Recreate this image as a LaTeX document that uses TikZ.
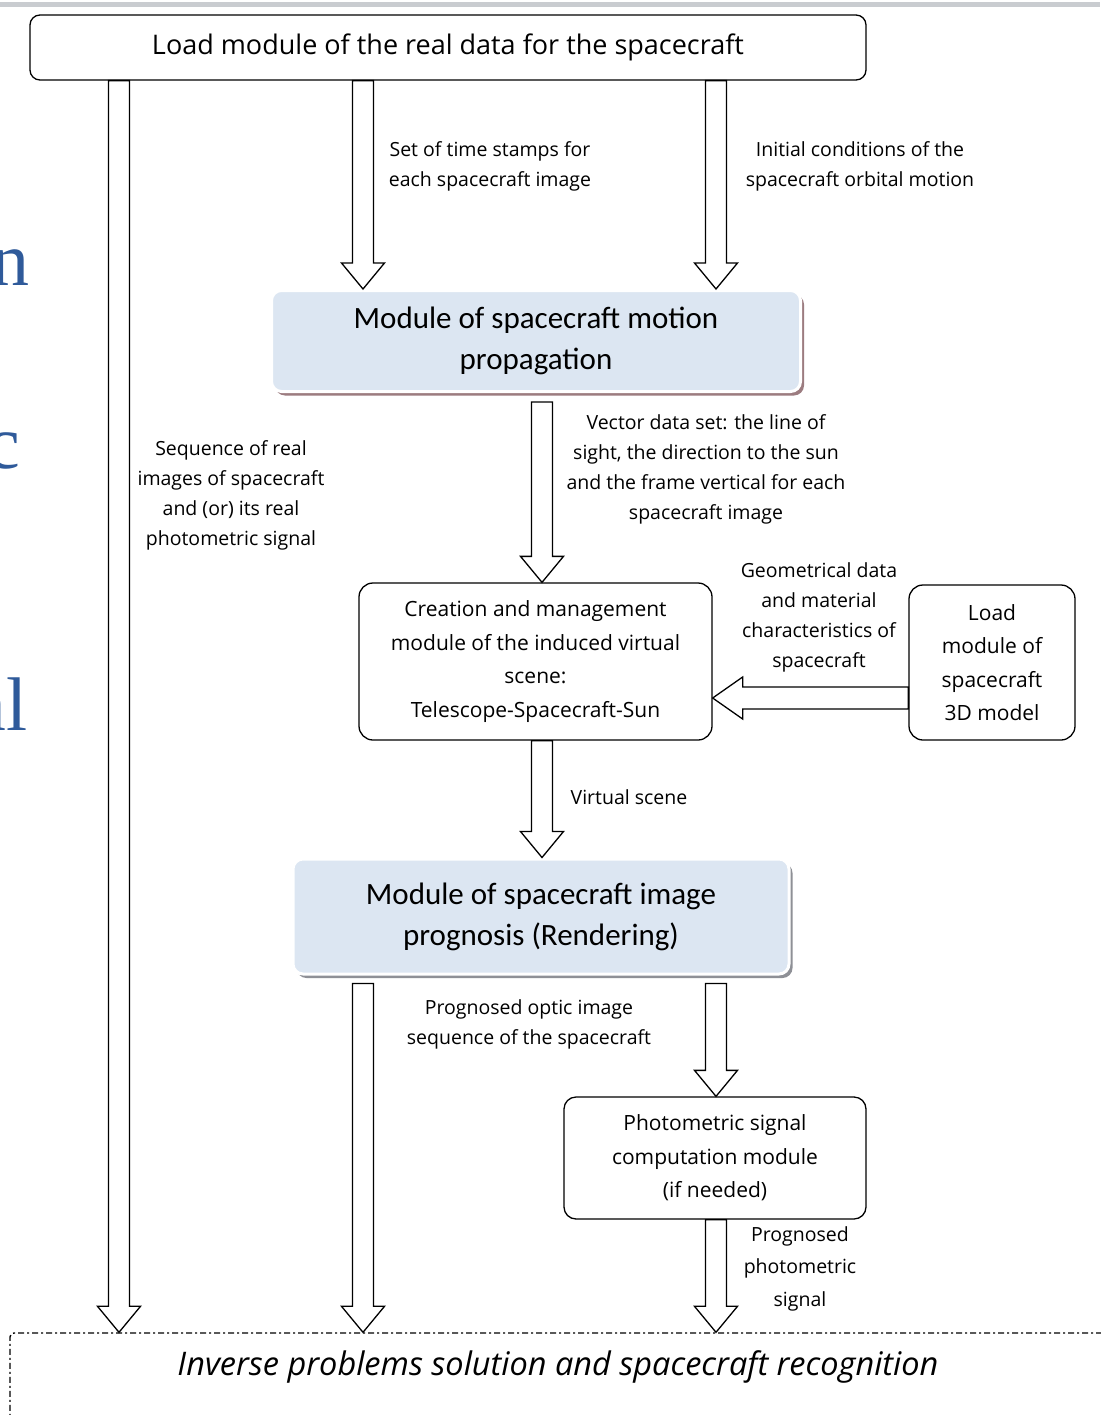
\documentclass[tikz,border=0pt]{standalone}
\usepackage{fontspec}
\setmainfont{Open Sans}
\newfontfamily\calfont{Carlito}
\newfontfamily\serfont{Liberation Serif}
\usetikzlibrary{calc,shadows}
\definecolor{shadefill}{HTML}{DCE6F2}
\definecolor{shadeshadow}{HTML}{9C7C80}
\definecolor{shadegray}{HTML}{8E9096}
\definecolor{slideblue}{HTML}{2F5A9A}
\definecolor{topbar}{HTML}{C9CCD0}
\tikzset{
  box/.style={draw=black, line width=1.3pt, rounded corners=14pt, fill=white, align=center, inner sep=0pt, font=\fontsize{21}{33.5}\selectfont},
  shadebox/.style={draw=white, line width=3pt, rounded corners=10pt, fill=shadefill, align=center, inner sep=0pt, font=\calfont\fontsize{31}{41}\selectfont},
  lbl/.style={align=center, inner sep=0pt, font=\fontsize{19.5}{30}\selectfont},
  barrow/.style={draw=black, line width=1.3pt, fill=white, line join=miter},
  slide/.style={text=slideblue, font=\serfont\fontsize{76}{76}\selectfont, inner sep=0pt},
  invbox/.style={draw=black, line width=1.4pt, rounded corners=4pt, fill=white, dash pattern=on 6pt off 3pt on 2pt off 3pt, inner sep=0pt},
}
\newcommand{\vblock}[2]{%
  \draw[barrow] let \p1=#1, \p2=#2 in
  (\x1-10.5pt,\y1) -- (\x1-10.5pt,\y2+26pt) -- (\x1-21.5pt,\y2+26pt) -- (\x1,\y2)
  -- (\x1+21.5pt,\y2+26pt) -- (\x1+10.5pt,\y2+26pt) -- (\x1+10.5pt,\y1) -- cycle;}
\newcommand{\hblock}[2]{%
  \draw[barrow] let \p1=#1, \p2=#2 in
  (\x1,\y1+11pt) -- (\x2+30pt,\y1+11pt) -- (\x2+30pt,\y1+21pt) -- (\x2,\y1)
  -- (\x2+30pt,\y1-21pt) -- (\x2+30pt,\y1-11pt) -- (\x1,\y1-11pt) -- cycle;}
\begin{document}
\begin{tikzpicture}[x=1pt,y=-1pt]
\useasboundingbox (0,0) rectangle (1100,1415);
\fill[white] (0,0) rectangle (1100,1415);
\fill[topbar] (0,2) rectangle (1100,7);

% slide text fragments at left edge
\node[slide, anchor=base east] (sl1) at (30,285) {n};
\node[slide, anchor=base east] (sl2) at (20,468) {c};
\node[slide, anchor=base east] (sl3) at (28,730) {al};

% coordinates for arrow columns
\coordinate (xa) at (119,0);
\coordinate (xb) at (363,0);
\coordinate (xc) at (716,0);
\coordinate (xd) at (542,0);
\coordinate (hy) at (0,698);

% nodes
\node[box, rounded corners=10pt, minimum width=836pt, minimum height=65pt, font=\fontsize{27}{27}\selectfont] (load) at (448,47.5) {Load module of the real data for the spacecraft};

\node[shadebox, drop shadow={shadow xshift=3.5pt, shadow yshift=-4pt, fill=shadeshadow, opacity=1}, minimum width=529pt, minimum height=101pt] (s1) at (536,341) {Module of spacecraft motion\\propagation};

\node[box, minimum width=353pt, minimum height=157pt] (creation) at (535.5,661.5) {Creation and management\\module of the induced virtual\\scene:\\Telescope-Spacecraft-Sun};

\node[box, minimum width=166pt, minimum height=155pt] (model) at (992,662.5) {Load\\module of\\spacecraft\\3D model};

\node[shadebox, drop shadow={shadow xshift=3.5pt, shadow yshift=-4pt, fill=shadegray, opacity=1}, minimum width=496pt, minimum height=115pt] (s2) at (541,916.5) {Module of spacecraft image\\prognosis (Rendering)};

\node[box, rounded corners=12pt, minimum width=302pt, minimum height=122pt] (phot) at (715,1158) {Photometric signal\\computation module\\(if needed)};

\node[invbox, minimum width=1110pt, minimum height=120pt] (inv) at (565,1393) {};
\node[inner sep=0pt, font=\itshape\fontsize{32.5}{32.5}\selectfont] (invt) at (558,1367) {Inverse problems solution and spacecraft recognition};

% labels
\node[lbl] (lset) at (490,166) {Set of time stamps for\\each spacecraft image};
\node[lbl] (linit) at (860,166) {Initial conditions of the\\spacecraft orbital motion};
\node[lbl] (lseq) at (231,495) {Sequence of real\\images of spacecraft\\and (or) its real\\photometric signal};
\node[lbl] (lvec) at (706,469) {Vector data set: the line of\\sight, the direction to the sun\\and the frame vertical for each\\spacecraft image};
\node[lbl] (lgeo) at (819,617.5) {Geometrical data\\and material\\characteristics of\\spacecraft};
\node[lbl] (lvirt) at (629,797) {Virtual scene};
\node[lbl] (lprog) at (529,1024.5) {Prognosed optic image\\sequence of the spacecraft};
\node[lbl, font=\fontsize{19.5}{32.5}\selectfont] (lpphot) at (800,1268.5) {Prognosed\\photometric\\signal};

% block arrows
\vblock{(load.south -| xa)}{(inv.north -| xa)}
\vblock{(load.south -| xb)}{(s1.north -| xb)}
\vblock{(load.south -| xc)}{(s1.north -| xc)}
\vblock{($(s1.south -| xd)+(0,9)$)}{(creation.north -| xd)}
\hblock{(model.west |- hy)}{(creation.east |- hy)}
\vblock{(creation.south -| xd)}{(s2.north -| xd)}
\vblock{($(s2.south -| xb)+(0,8)$)}{(inv.north -| xb)}
\vblock{($(s2.south -| xc)+(0,8)$)}{(phot.north -| xc)}
\vblock{(phot.south -| xc)}{(inv.north -| xc)}
\end{tikzpicture}
\end{document}
